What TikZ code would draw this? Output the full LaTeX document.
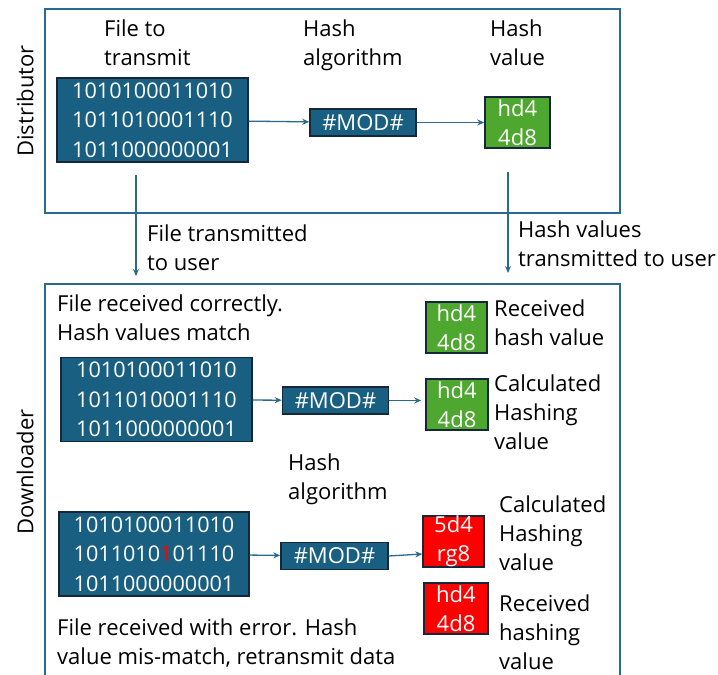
\documentclass[tikz,border=0pt]{standalone}
\usepackage{fontspec}
\setmainfont{Open Sans}
\usetikzlibrary{arrows.meta}
\definecolor{fileblue}{HTML}{185F82}
\definecolor{edgenavy}{HTML}{14283A}
\definecolor{framec}{HTML}{2A6A8C}
\definecolor{okgreen}{HTML}{4EA72E}
\definecolor{badred}{HTML}{FF0000}
\tikzset{
  lbl/.style={anchor=west, inner sep=0pt, align=left, font=\fontsize{22}{29}\selectfont},
  filebox/.style={draw=edgenavy, line width=1.5pt, fill=fileblue, text=white, minimum width=191pt, minimum height=84pt, inner sep=0pt, align=center, font=\fontsize{21.6}{29.5}\selectfont},
  modbox/.style={draw=edgenavy, line width=1.5pt, fill=fileblue, text=white, minimum width=106pt, minimum height=27pt, inner sep=0pt, font=\fontsize{22}{25}\selectfont},
  hashbox/.style={draw=edgenavy, line width=1.5pt, text=white, minimum width=63pt, minimum height=51pt, inner sep=0pt, align=center, font=\fontsize{22}{29}\selectfont},
  frame/.style={draw=framec, line width=1.3pt},
  conn/.style={draw=framec, line width=1.3pt, -{Stealth[length=7pt,width=6pt]}}
}
\begin{document}
\begin{tikzpicture}[x=1pt,y=-1pt]
\useasboundingbox (0,0) rectangle (718,675);
% frames
\draw[frame] (45,9) rectangle (620,213);
\draw[frame] (45,690) -- (45,284) -- (620,284) -- (620,690);
\node[rotate=90, inner sep=0pt, font=\fontsize{22}{25}\selectfont] (dist) at (25,101) {Distributor};
\node[rotate=90, inner sep=0pt, font=\fontsize{22}{25}\selectfont] (down) at (25,472) {Downloader};
% distributor
\node[lbl] (t1) at (104,43) {File to\\transmit};
\node[lbl] (t2) at (303,45) {Hash\\algorithm};
\node[lbl] (t3) at (490,43) {Hash\\value};
\node[filebox] (f1) at (152.5,120) {1010100011010\\1011010001110\\1011000000001};
\node[modbox] (m1) at (363,122.5) {\#MOD\#};
\node[hashbox, fill=okgreen, minimum width=65pt] (h1) at (517.5,122.5) {hd4\\4d8};
\draw[conn] (f1) -- (m1);
\draw[conn] (m1) -- (h1);
% transfer arrows
\coordinate (a1s) at (136,175);
\coordinate (a1e) at (136,276);
\coordinate (a2s) at (508,172);
\coordinate (a2e) at (508,273);
\draw[conn] (a1s) -- (a1e);
\draw[conn] (a2s) -- (a2e);
\node[lbl] (t4) at (147,247.5) {File transmitted\\to user};
\node[lbl] (t5) at (518,243.5) {Hash values\\transmitted to user};
% downloader, correct
\node[lbl] (t6) at (57,318) {File received correctly.\\Hash values match};
\node[hashbox, fill=okgreen, minimum width=61pt] (h2) at (456.5,327.5) {hd4\\4d8};
\node[lbl] (t7) at (494,322.5) {Received\\hash value};
\node[filebox] (f2) at (156.5,399.5) {1010100011010\\1011010001110\\1011000000001};
\node[modbox] (m2) at (335.5,400.5) {\#MOD\#};
\node[hashbox, fill=okgreen, minimum width=62pt] (h3) at (457,404.5) {hd4\\4d8};
\node[lbl] (t8) at (494,412.5) {Calculated\\Hashing\\value};
\draw[conn] (f2) -- (m2);
\draw[conn, shorten >=4pt] (m2.east) -- (m2.east -| h3.west);
\node[lbl] (t9) at (288,479) {Hash\\algorithm};
% downloader, error
\node[filebox, minimum width=190pt] (f3) at (154,554) {1010100011010\\1011010{\color{badred}1}01110\\1011000000001};
\node[modbox, minimum width=107pt] (m3) at (334.5,556) {\#MOD\#};
\node[hashbox, fill=badred, minimum width=61pt] (r1) at (453.5,541.5) {5d4\\rg8};
\node[hashbox, fill=badred, minimum width=64pt] (r2) at (456,608.5) {hd4\\4d8};
\node[lbl] (t10) at (499,533) {Calculated\\Hashing\\value};
\node[lbl] (t11) at (499,632.5) {Received\\hashing\\value};
\draw[conn] (f3) -- (m3);
\draw[conn] (m3.east) -- (r1.west |- 0,554);
\node[lbl] (t12) at (57,643.5) {File received with error. Hash\\value mis-match, retransmit data};
\end{tikzpicture}
\end{document}
